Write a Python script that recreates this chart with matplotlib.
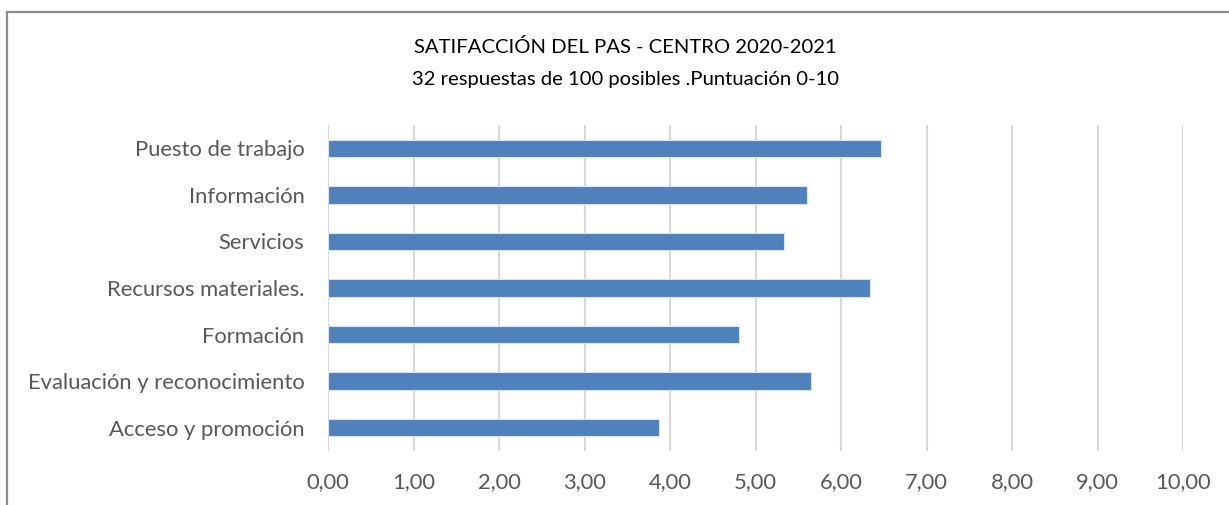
import matplotlib
matplotlib.use("Agg")
import matplotlib.pyplot as plt
from matplotlib.ticker import FuncFormatter, MultipleLocator
from matplotlib.patches import Rectangle

categories = ["Puesto de trabajo", "Información", "Servicios", "Recursos materiales.",
              "Formación", "Evaluación y reconocimiento", "Acceso y promoción"]
values = [6.47, 5.60, 5.33, 6.34, 4.81, 5.65, 3.87]
title_line1 = "SATIFACCIÓN DEL PAS - CENTRO 2020-2021"
title_line2 = "32 respuestas de 100 posibles .Puntuación 0-10"

plt.rcParams['font.family'] = ['Lato', 'DejaVu Sans']

W, H = 1229, 505
fig = plt.figure(figsize=(W / 100, H / 100), dpi=100)
fig.patch.set_facecolor("white")

# chart frame
fig.patches.append(Rectangle((7 / W, -0.1), 1.2, (H - 12) / H + 0.1, transform=fig.transFigure,
                             fill=False, edgecolor="#8c8c8c", linewidth=1.6, zorder=0))

left, right = 328 / W, 1183 / W
bottom, top = (H - 451) / H, (H - 125) / H
ax = fig.add_axes([left, bottom, right - left, top - bottom])

y = list(range(len(categories)))
ax.barh(y, values, height=0.375, color="#4f81bd", edgecolor="#dbe3ee", linewidth=0.8, zorder=3)
ax.set_ylim(len(categories) - 0.5, -0.5)
ax.set_yticks(y)
ax.set_yticklabels(categories)
ax.set_xlim(0, 10)
ax.xaxis.set_major_locator(MultipleLocator(1))
ax.xaxis.set_major_formatter(FuncFormatter(lambda v, p: f"{v:.2f}".replace(".", ",")))
ax.grid(axis="x", color="#d9d9d9", linewidth=1.5, zorder=0)
ax.set_axisbelow(True)
for s in ax.spines.values():
    s.set_visible(False)
ax.tick_params(axis="both", length=0, labelsize=15.8, labelcolor="#595959")
ax.tick_params(axis="y", pad=17)
ax.tick_params(axis="x", pad=15)

fig.text(625 / W, 1 - 47 / H, title_line1, ha="center", va="center", fontsize=14.6, color="#000000")
fig.text(625 / W, 1 - 80 / H, title_line2, ha="center", va="center", fontsize=14.6, color="#000000")

fig.savefig("out.png", dpi=100)
